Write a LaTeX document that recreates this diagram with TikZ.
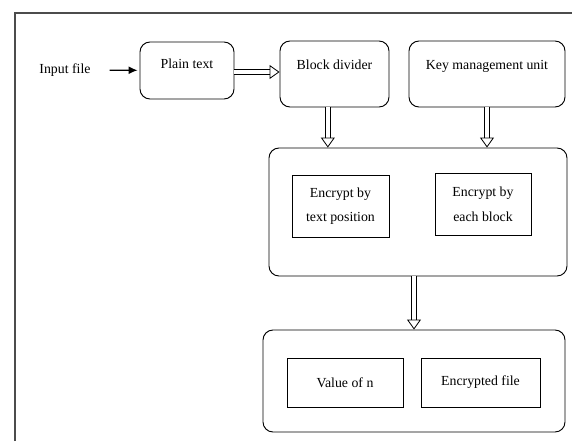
\documentclass[tikz,border=0pt]{standalone}
\usepackage{fontspec}
\setmainfont{Liberation Serif}
\usetikzlibrary{arrows.meta}
\begin{document}
\begin{tikzpicture}[x=0.03cm,y=-0.03cm,
        font=\fontsize{11.8}{21}\selectfont,
        rbox/.style={draw,rounded corners=0.3cm,inner sep=0pt,line width=0.8pt},
        sbox/.style={draw,inner sep=0pt,align=center,line width=0.8pt},
        hollow/.style={double,double distance=0.12cm,line width=0.7pt,
            -{Triangle[open,length=0.3cm,width=0.42cm]}}]
    \useasboundingbox (0,0) rectangle (572,441);
    \draw[gray!60!black,line width=1.1pt] (15,441) -- (15,13) -- (572,13);
    % top row
    \node (infile) at (65,70) {Input file};
    \node[rbox,minimum width=2.82cm,text height=0.78cm,text depth=0.93cm] (plain) at (187,70.5) {Plain text};
    \node[rbox,minimum width=3.27cm,text height=0.84cm,text depth=1.14cm] (blk) at (334.5,74) {Block divider};
    \node[rbox,minimum width=4.68cm,text height=0.84cm,text depth=1.14cm] (key) at (487,74) {Key management unit};
    % encryption stage
    \node[rbox,minimum width=8.94cm,minimum height=3.84cm] (mid) at (418,212) {};
    \node[sbox,minimum width=2.91cm,minimum height=1.86cm] (encpos) at (340.5,206) {Encrypt by\\text position};
    \node[sbox,minimum width=2.88cm,minimum height=1.86cm] (encblk) at (483,204) {Encrypt by\\each block};
    % output stage
    \node[rbox,minimum width=9.06cm,minimum height=3.06cm] (out) at (414,381) {};
    \node[sbox,minimum width=3.48cm,minimum height=1.47cm] (valn) at (345,382.5) {Value of n};
    \node[sbox,minimum width=3.57cm,minimum height=1.47cm] (encfile) at (480.5,382.5) {Encrypted file};
    % arrows
    \draw[-{Latex[length=0.27cm,width=0.24cm]},line width=1pt,shorten <=0.45cm,shorten >=0.06cm] (infile) -- (plain);
    \draw[hollow] (plain.east |- 0,72) -- (blk.west |- 0,72);
    \draw[hollow] ([xshift=-0.2cm]blk.south) -- ([xshift=-0.2cm]blk.south |- mid.north);
    \draw[hollow] (key.south) -- (key.south |- mid.north);
    \draw[hollow] (out.north |- mid.south) -- (out.north);
\end{tikzpicture}
\end{document}
